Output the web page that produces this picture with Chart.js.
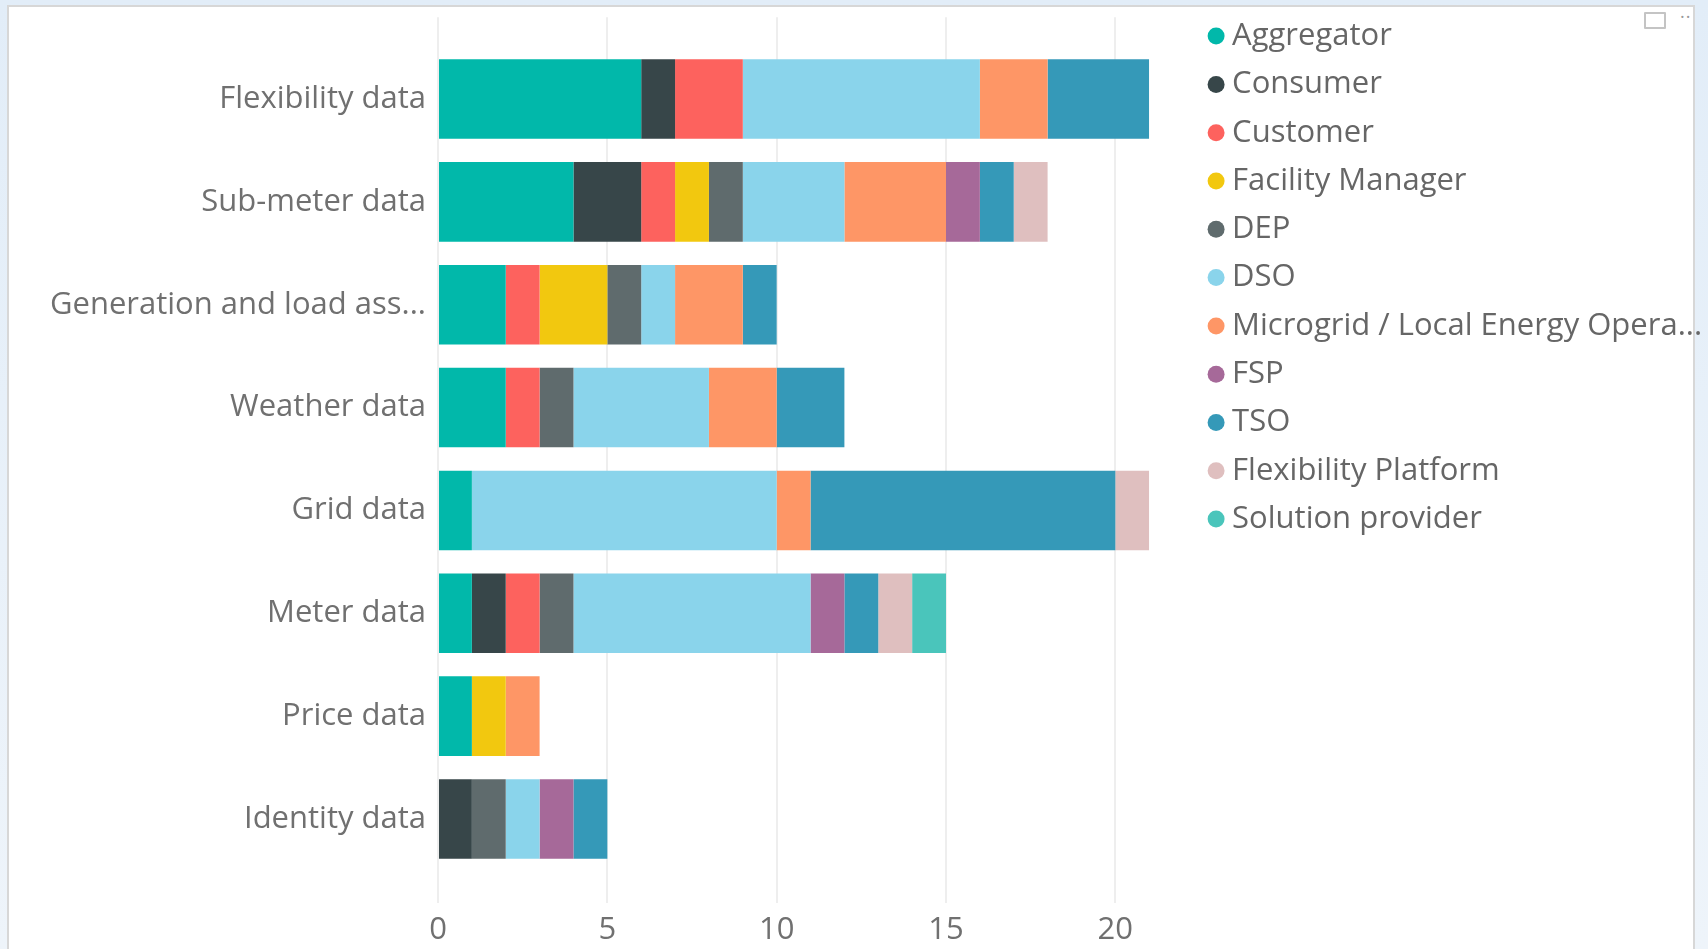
<!DOCTYPE html>
<html>
<head>
<meta charset="utf-8">
<script src="https://cdn.jsdelivr.net/npm/chart.js@4/dist/chart.umd.min.js"></script>
<style>
  html, body { margin: 0; padding: 0; overflow: hidden; }
  body { width: 1708px; height: 949px; background: linear-gradient(#e2edf8, #eef4fa); position: relative; }
  #panel { position: absolute; left: 7px; top: 5px; width: 1684px; height: 970px; background: #fff; border: 2px solid #d7d7d7; }
  #wrap { position: absolute; left: 0; top: 0; width: 1708px; height: 957px; }
  #focus { position: absolute; left: 1644px; top: 12px; width: 18px; height: 13px; border: 2px solid #c4c4c4; border-radius: 1px; }
  #more { position: absolute; left: 1680px; top: 4px; font: 18px 'Open Sans'; color: #999; letter-spacing: 1px; }
</style>
</head>
<body>
<div id="panel"></div>
<div id="focus"></div>
<div id="more">··</div>
<div id="wrap"><canvas id="dataChart"></canvas></div>
<script>
const categories = ['Flexibility data', 'Sub-meter data', 'Generation and load ass...', 'Weather data',
                    'Grid data', 'Meter data', 'Price data', 'Identity data'];

// one array per role, values in the order of categories
const aggregator          = [6, 4, 2, 2, 1, 1, 1, 0];
const consumer            = [1, 2, 0, 0, 0, 1, 0, 1];
const customer            = [2, 1, 1, 1, 0, 1, 0, 0];
const facilityManager     = [0, 1, 2, 0, 0, 0, 1, 0];
const dep                 = [0, 1, 1, 1, 0, 1, 0, 1];
const dso                 = [7, 3, 1, 4, 9, 7, 0, 1];
const microgrid           = [2, 3, 2, 2, 1, 0, 1, 0];
const fsp                 = [0, 1, 0, 0, 0, 1, 0, 1];
const tso                 = [3, 1, 1, 2, 9, 1, 0, 1];
const flexibilityPlatform = [0, 1, 0, 0, 1, 1, 0, 0];
const solutionProvider    = [0, 0, 0, 0, 0, 1, 0, 0];

const seriesNames = ['Aggregator', 'Consumer', 'Customer', 'Facility Manager', 'DEP', 'DSO',
                     'Microgrid / Local Energy Opera...', 'FSP', 'TSO', 'Flexibility Platform', 'Solution provider'];
const seriesValues = [aggregator, consumer, customer, facilityManager, dep, dso,
                      microgrid, fsp, tso, flexibilityPlatform, solutionProvider];
const seriesColors = ['#01B8AA', '#374649', '#FD625E', '#F2C80F', '#5F6B6D', '#8AD4EB',
                      '#FE9666', '#A66999', '#3599B8', '#DFBFBF', '#4AC5BB'];

const xTicks = [0, 5, 10, 15, 20];
const xMax = 21;

const gridColor = '#eeeeee';
const font = 'Open Sans';

const ctx = document.querySelector('#dataChart').getContext('2d');
const dataChart = new Chart(ctx, {
    type: 'bar',
    data: {
        labels: categories,
        datasets: seriesNames.map((name, i) => ({
            label: name,
            data: seriesValues[i],
            backgroundColor: seriesColors[i],
            borderWidth: 0,
            categoryPercentage: 1,
            barPercentage: 0.773
        }))
    },
    options: {
        indexAxis: 'y',
        responsive: true,
        maintainAspectRatio: false,
        animation: false,
        layout: { padding: { top: 3.3 } },
        scales: {
            x: {
                stacked: true,
                min: 0,
                max: xMax,
                position: 'bottom',
                afterBuildTicks: s => { s.ticks = xTicks.map(v => ({ value: v })); },
                ticks: { color: '#707070', font: { family: font, size: 31 }, padding: 8.4, maxRotation: 0 },
                grid: { color: gridColor, lineWidth: 2, tickLength: 32.6 },
                border: { display: false }
            },
            xTop: {
                type: 'linear',
                position: 'top',
                min: 0,
                max: xMax,
                afterBuildTicks: s => { s.ticks = xTicks.map(v => ({ value: v })); },
                ticks: { color: 'rgba(0,0,0,0)', font: { size: 8, lineHeight: 1 }, padding: 3 },
                grid: { color: gridColor, lineWidth: 2, tickLength: 30.3, drawOnChartArea: false },
                border: { display: false }
            },
            y: {
                stacked: true,
                afterFit: s => { s.width = 438; },
                ticks: { color: '#707070', font: { family: font, size: 31 }, padding: 4 },
                grid: { display: false },
                border: { display: false }
            },
            spacer: {
                type: 'linear',
                position: 'right',
                afterFit: s => { s.width = 49.1; },
                ticks: { display: false },
                grid: { display: false },
                border: { display: false }
            }
        },
        plugins: {
            legend: {
                position: 'right',
                align: 'start',
                maxWidth: 509.7,
                labels: {
                    usePointStyle: true,
                    pointStyle: 'circle',
                    boxWidth: 1,
                    boxHeight: 12,
                    padding: 17.3,
                    color: '#666666',
                    font: { family: font, size: 31 }
                }
            },
            tooltip: { enabled: false }
        }
    }
});
</script>
</body>
</html>
